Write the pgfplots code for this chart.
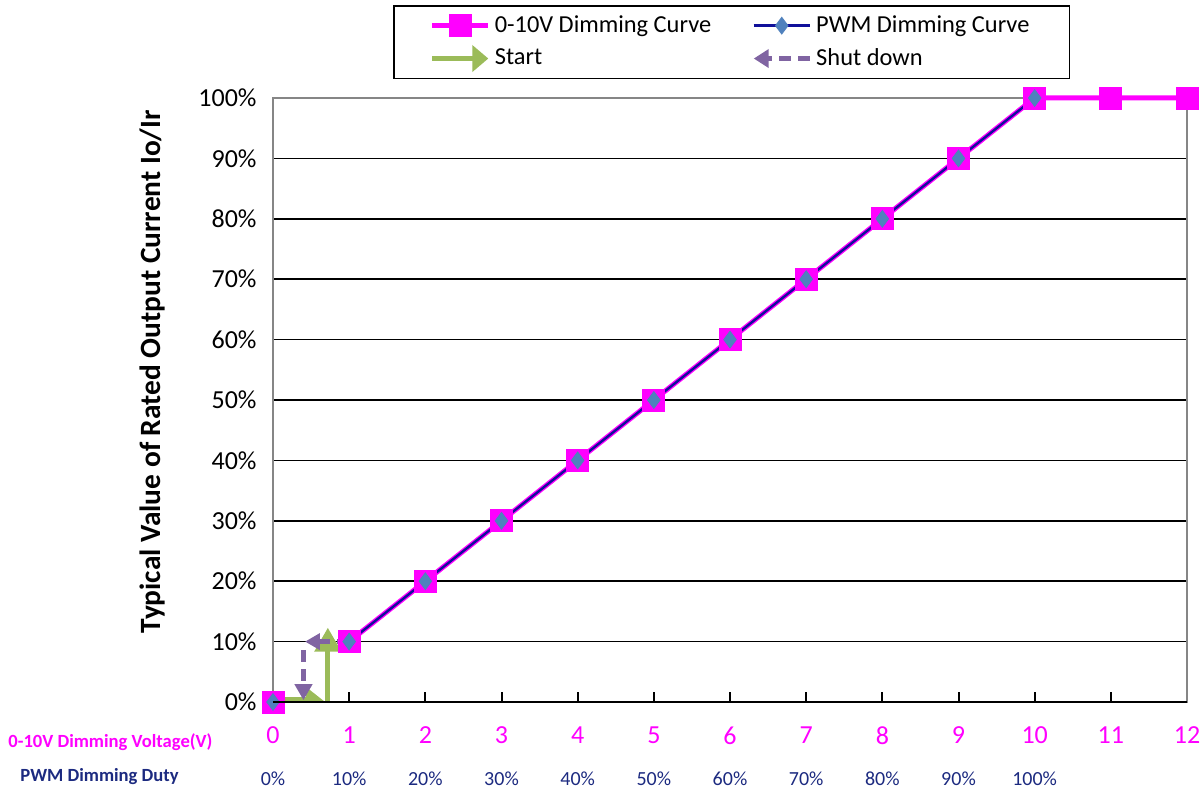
\documentclass[border=0pt]{standalone}
\usepackage{fontspec}
\setmainfont{Carlito}
\usepackage{pgfplots}
\pgfplotsset{compat=1.18}
\usetikzlibrary{arrows.meta}

\definecolor{pinkline}{HTML}{FF00FF}
\definecolor{pwmline}{HTML}{10109A}
\definecolor{pwmmark}{HTML}{4F81BD}
\definecolor{startgreen}{HTML}{9BBB59}
\definecolor{shutpurple}{HTML}{8064A2}
\definecolor{axisgray}{HTML}{868686}
\definecolor{pwmtext}{HTML}{1C2A80}

\pgfplotsset{
    arrow right legend/.style={legend image code/.code={\draw[##1] (0pt,0pt) -- (28pt,0pt);}},
    arrow left legend/.style={legend image code/.code={\draw[##1] (28pt,0pt) -- (0pt,0pt);}},
}

\begin{document}
\begin{tikzpicture}
\useasboundingbox (0,0) rectangle (601.5pt,396pt);
\begin{axis}[
    at={(136.5pt,45pt)}, anchor=south west,
    scale only axis, width=457pt, height=302pt,
    xmin=0, xmax=12, ymin=0, ymax=100,
    clip=false,
    unbounded coords=jump,
    axis line style={draw=axisgray, line width=1.2pt},
    xtick={0,...,12},
    ytick={0,10,...,100},
    tick align=inside,
    xtick pos=bottom, ytick pos=left,
    xtick style={draw=black, line width=1pt},
    ytick style={draw=none},
    major tick length=5pt,
    ymajorgrids,
    grid style={black, line width=0.8pt},
    /pgf/number format/assume math mode=true,
    yticklabel={\pgfmathprintnumber{\tick}\%},
    yticklabel style={font=\fontsize{13}{15}\selectfont, black, xshift=-4.7pt},
    xticklabel style={font=\fontsize{13}{15}\selectfont, text=pinkline, yshift=-8.7pt},
    extra x ticks={0,1,2,3,4,5,6,7,8,9,10},
    extra x tick labels={0\%,10\%,20\%,30\%,40\%,50\%,60\%,70\%,80\%,90\%,100\%},
    extra x tick style={grid=none, tick style={draw=none},
        xticklabel style={font=\fontsize{10}{12}\selectfont, text=pwmtext, yshift=-22.5pt}},
    legend image code/.code={\draw[mark repeat=2,mark phase=2,#1] plot coordinates {(0pt,0pt) (14pt,0pt) (28pt,0pt)};},
    legend columns=2,
    legend cell align=left,
    legend style={at={(0.1313,1.154)}, anchor=north west,
        draw=black, line width=0.8pt, fill=white,
        font=\fontsize{12.2}{14}\selectfont,
        inner xsep=18pt, inner ysep=3pt, row sep=2.5pt,
        nodes={inner sep=2pt},
        /tikz/every even column/.append style={column sep=18pt}},
]
% start and shut-down arrows
\addplot[startgreen, line width=2.5pt, -{Triangle[left,width=12pt,length=8pt]}, forget plot]
    coordinates {(0,0.4) (0.68,0.4)};
\addplot[startgreen, line width=2.5pt, -{Triangle[width=13pt,length=12pt]}, forget plot]
    coordinates {(0.72,0) (0.72,12.3)};
\addplot[shutpurple, line width=2.5pt, dash pattern=on 6pt off 3.5pt, -{Triangle[width=8pt,length=7.5pt]}, forget plot]
    coordinates {(1,10) (0.42,10)};
\addplot[shutpurple, line width=2.5pt, dash pattern=on 6pt off 3.5pt, -{Triangle[width=8.5pt,length=8pt]}, forget plot]
    coordinates {(0.4,8.6) (0.4,0.3)};

% 0-10V dimming curve
\addplot[pinkline, line width=2.5pt, mark=square*, mark size=5.5pt,
    mark options={solid, fill=pinkline, draw=pinkline, line width=0.4pt}]
    coordinates {(0,0) (0.5,nan) (1,10) (2,20) (3,30) (4,40) (5,50) (6,60) (7,70) (8,80) (9,90) (10,100) (11,100) (12,100)};
% PWM dimming curve
\addplot[pwmline, line width=1.2pt, mark=diamond*, mark size=4.2pt,
    mark options={solid, fill=pwmmark, draw=pwmmark, line width=0.4pt}]
    coordinates {(0,0) (0.5,nan) (1,10) (2,20) (3,30) (4,40) (5,50) (6,60) (7,70) (8,80) (9,90) (10,100)};

\addlegendimage{startgreen, line width=2.5pt, -{Triangle[width=13pt,length=8pt]}, arrow right legend}
\addlegendimage{shutpurple, line width=2.5pt, dash pattern=on 6pt off 3.5pt, -{Triangle[width=9pt,length=7.5pt]}, arrow left legend}
\legend{0-10V Dimming Curve, PWM Dimming Curve, Start, Shut down}
\end{axis}
\draw[black, line width=1.2pt] (136.5pt,45pt) -- (593.5pt,45pt);
\node[rotate=90, inner sep=0pt, font=\bfseries\fontsize{14.7}{16}\selectfont] at (76pt,210pt)
    {Typical Value of Rated Output Current Io/Ir};
\node[anchor=west, inner sep=0pt, text=pinkline, font=\bfseries\fontsize{9.3}{11}\selectfont] at (4pt,25pt)
    {0-10V Dimming Voltage(V)};
\node[anchor=west, inner sep=0pt, text=pwmtext, font=\bfseries\fontsize{9.3}{11}\selectfont] at (10pt,7.5pt)
    {PWM Dimming Duty};
\end{tikzpicture}
\end{document}
